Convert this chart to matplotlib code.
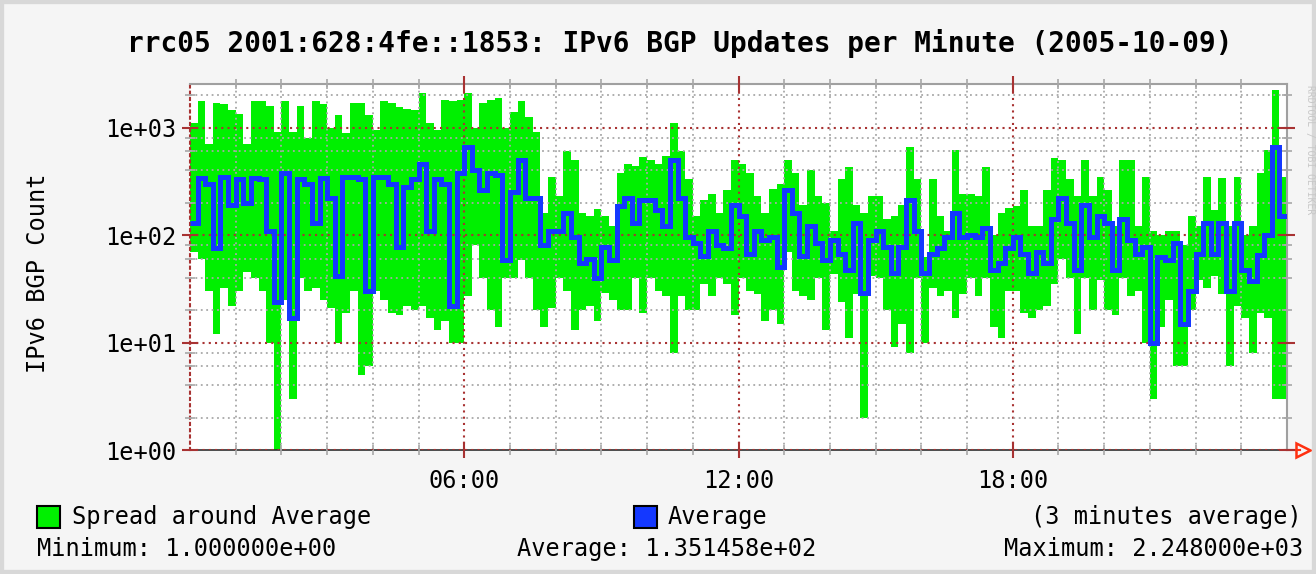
import numpy as np
import matplotlib
matplotlib.use('Agg')
import matplotlib.pyplot as plt
from matplotlib.patches import Rectangle
from matplotlib.ticker import FixedLocator, FixedFormatter

plt.rcParams['font.family'] = ['DejaVu Sans Mono']

# 10 minute bins over the day, 6 per hour
upd_max = [
    1100, 1750, 700, 1700, 1650, 1450,     # 00h
    1350, 700, 1750, 1750, 1600, 900,      # 01h
    1750, 900, 1600, 800, 1750, 1650,      # 02h
    1000, 1300, 880, 1700, 1700, 1300,     # 03h
    950, 1750, 1700, 1550, 1500, 1450,     # 04h
    2100, 1100, 950, 1800, 1750, 1800,     # 05h
    2100, 1000, 1700, 1800, 1900, 1000,    # 06h
    1400, 1750, 1250, 900, 160, 350,       # 07h
    230, 600, 500, 160, 150, 175,          # 08h
    150, 120, 375, 460, 440, 530,          # 09h
    500, 460, 540, 1100, 600, 330,         # 10h
    150, 210, 240, 160, 260, 500,          # 11h
    460, 380, 230, 160, 270, 300,          # 12h
    500, 380, 190, 400, 230, 200,          # 13h
    110, 330, 430, 190, 160, 230,          # 14h
    230, 140, 150, 190, 660, 330,          # 15h
    63, 330, 150, 110, 620, 240,           # 16h
    240, 230, 430, 100, 160, 180,          # 17h
    185, 260, 120, 120, 260, 520,          # 18h
    500, 330, 230, 500, 230, 350,          # 19h
    260, 120, 500, 500, 120, 350,          # 20h
    110, 100, 110, 110, 80, 150,           # 21h
    120, 350, 170, 340, 120, 350,          # 22h
    100, 120, 380, 620, 2248, 350,         # 23h
]
upd_avg = [
    130, 340, 300, 75, 350, 190,
    330, 200, 340, 330, 110, 24,
    380, 17, 330, 300, 130, 340,
    220, 42, 350, 350, 330, 30,
    350, 350, 300, 78, 280, 330,
    460, 110, 330, 300, 22, 380,
    660, 400, 260, 380, 360, 58,
    250, 500, 220, 220, 80, 110,
    110, 160, 95, 55, 60, 40,
    78, 58, 185, 220, 130, 210,
    210, 170, 120, 500, 220, 95,
    85, 64, 110, 80, 75, 190,
    150, 67, 110, 90, 95, 50,
    260, 160, 64, 120, 85, 58,
    90, 67, 47, 130, 29, 90,
    110, 78, 44, 78, 210, 110,
    44, 67, 75, 95, 160, 95,
    100, 95, 115, 47, 55, 75,
    95, 67, 44, 70, 55, 140,
    220, 130, 47, 190, 95, 150,
    130, 47, 140, 90, 67, 78,
    10, 63, 58, 85, 15, 30,
    67, 130, 67, 130, 30, 130,
    47, 37, 65, 100, 660, 150,
]
upd_min = [
    70, 60, 30, 12, 32, 22,
    30, 45, 40, 30, 10, 1.0,
    25, 3, 40, 30, 32, 25,
    21, 10, 19, 30, 5, 6,
    30, 25, 19, 18, 22, 20,
    22, 17, 13, 16, 10, 10,
    27, 80, 40, 20, 14, 40,
    40, 58, 40, 20, 14, 21,
    40, 30, 13, 20, 22, 16,
    29, 25, 20, 20, 40, 19,
    40, 30, 27, 8, 27, 20,
    20, 35, 27, 40, 35, 18,
    40, 30, 28, 16, 20, 15,
    70, 30, 27, 25, 40, 13,
    43, 24, 11, 28, 2, 42,
    40, 20, 9, 15, 8, 40,
    10, 32, 27, 30, 17, 28,
    40, 27, 40, 14, 11, 30,
    30, 19, 17, 20, 22, 35,
    60, 40, 12, 40, 20, 38,
    20, 18, 40, 27, 30, 10,
    3, 14, 25, 6, 6, 20,
    38, 32, 42, 28, 6, 22,
    17, 8, 19, 17, 3, 3,
]
hour_ticks = [6, 12, 18]
hour_labels = ['06:00', '12:00', '18:00']
y_ticks = [1, 10, 100, 1000]
y_labels = ['1e+00', '1e+01', '1e+02', '1e+03']

GREEN = '#00f000'
BLUE = '#1438ff'
RED = '#a83232'
GRAY = '#a8a8a8'
BG = '#f5f5f5'

W, H = 1316, 574
fig = plt.figure(figsize=(W / 100, H / 100), dpi=100, facecolor=BG)
ax = fig.add_axes([190 / W, 1 - 450 / H, 1097 / W, 366 / H])
ax.set_facecolor('white')

edges = np.linspace(0, 24, len(upd_max) + 1)
ax.stairs(upd_max, edges, baseline=upd_min, fill=True, color=GREEN, lw=0, zorder=2)
ax.stairs(upd_avg, edges, baseline=None, color=BLUE, lw=3.6, zorder=3)

ax.set_yscale('log')
ax.set_xlim(0, 24)
ax.set_ylim(1, 2540)

# ticks / grid like rrdtool
ax.yaxis.set_major_locator(FixedLocator(y_ticks))
ax.yaxis.set_major_formatter(FixedFormatter(y_labels))
minors = [m * 10 ** d for d in range(4) for m in (2, 4, 6, 8)]
ax.yaxis.set_minor_locator(FixedLocator(minors))
ax.yaxis.set_minor_formatter(FixedFormatter([''] * len(minors)))
ax.xaxis.set_major_locator(FixedLocator(hour_ticks))
ax.xaxis.set_major_formatter(FixedFormatter(hour_labels))
ax.xaxis.set_minor_locator(FixedLocator([h for h in range(1, 24) if h not in hour_ticks]))

ax.grid(which='minor', color=GRAY, linestyle=(0, (1, 2)), lw=1.3, zorder=4)
ax.grid(which='major', color=RED, linestyle=(0, (1, 2)), lw=1.5, zorder=4)
ax.set_axisbelow(False)

ax.tick_params(which='both', direction='inout', top=True, right=True,
               labelsize=17, labelcolor='black')
ax.tick_params(which='major', length=12, width=1.5, color=RED, pad=4)
ax.tick_params(which='minor', length=7, width=1.2, color=GRAY)
ax.tick_params(axis='x', which='major', pad=8)

for side in ['top', 'right']:
    ax.spines[side].set_color('#a0a0a0')
    ax.spines[side].set_linewidth(1.5)
ax.spines['left'].set_color(RED)
ax.spines['left'].set_linestyle((0, (1, 2)))
ax.spines['left'].set_linewidth(1.5)
ax.spines['bottom'].set_color('#303030')
ax.spines['bottom'].set_linewidth(1.2)

# arrow at the end of the time axis
ax.plot([1.0, 1.012], [0, 0], transform=ax.transAxes, color='#ff3010', lw=1.5, clip_on=False)
ax.plot([1.0145], [0], marker='>', ms=10, mfc='none', mec='#ff3010', mew=1.8,
        transform=ax.transAxes, clip_on=False)

fig.text(680 / W, 1 - 43 / H,
         'rrc05 2001:628:4fe::1853: IPv6 BGP Updates per Minute (2005-10-09)',
         ha='center', va='center', fontsize=20, fontweight='bold')
fig.text(38 / W, 1 - 273 / H, 'IPv6 BGP Count', rotation=90,
         ha='center', va='center', fontsize=17)

# legend rows
for x0, col in [(37, GREEN), (634, BLUE)]:
    fig.patches.append(Rectangle((x0 / W, 1 - 528 / H), 23 / W, 22 / H,
                                 transform=fig.transFigure, facecolor=col,
                                 edgecolor='black', lw=1.5))
fig.text(72 / W, 1 - 517 / H, 'Spread around Average', ha='left', va='center', fontsize=17)
fig.text(668 / W, 1 - 517 / H, 'Average', ha='left', va='center', fontsize=17)
fig.text(1302 / W, 1 - 517 / H, '(3 minutes average)', ha='right', va='center', fontsize=17)
fig.text(37 / W, 1 - 549 / H, 'Minimum: 1.000000e+00', ha='left', va='center', fontsize=17)
fig.text(517 / W, 1 - 549 / H, 'Average: 1.351458e+02', ha='left', va='center', fontsize=17)
fig.text(1303 / W, 1 - 549 / H, 'Maximum: 2.248000e+03', ha='right', va='center', fontsize=17)

# outer canvas border and watermark strip
fig.patches.append(Rectangle((0, 0), 1, 1, transform=fig.transFigure, fill=False,
                             edgecolor='#d8d8d8', lw=6))
fig.text(1310 / W, 1 - 150 / H, 'RRDTOOL / TOBI OETIKER', rotation=270,
         ha='center', va='center', fontsize=7, color='#c8c8c8')

fig.savefig('out.png', dpi=100, facecolor=fig.get_facecolor())
